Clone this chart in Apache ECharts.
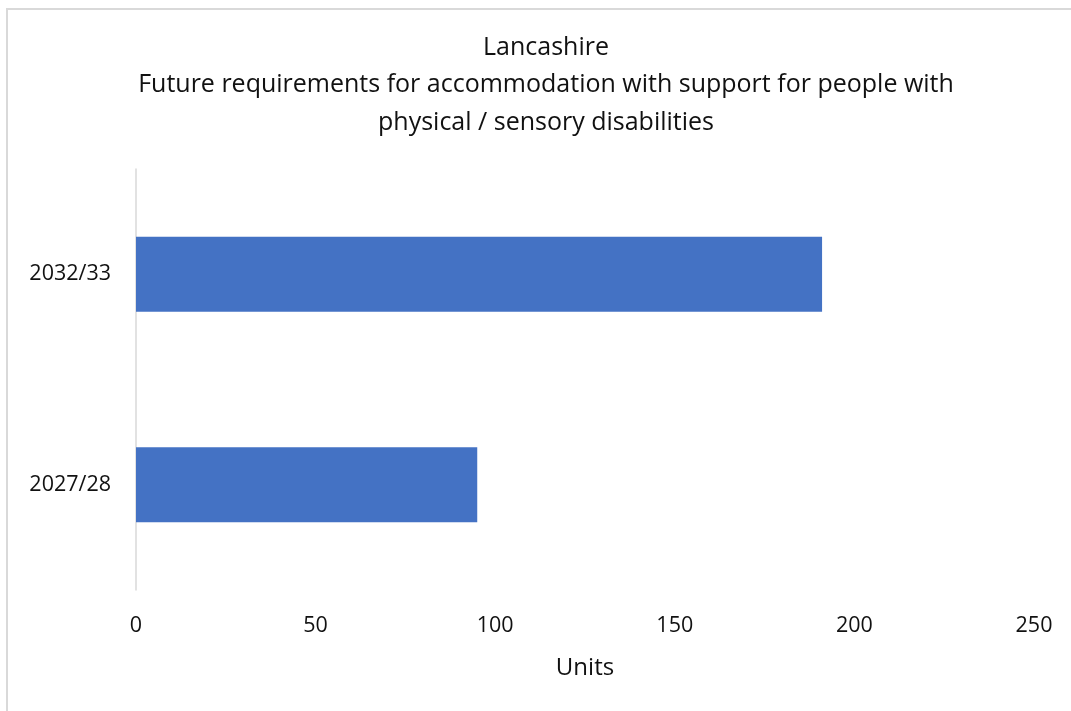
<!DOCTYPE html>
<html>
<head>
<meta charset="utf-8">
<script src="https://cdn.jsdelivr.net/npm/echarts@6/dist/echarts.min.js"></script>
<style>
html,body{margin:0;padding:0;background:#fff;}
#frame{position:absolute;left:6px;top:8px;width:1200px;height:800px;border-left:2px solid #d9d9d9;border-top:2px solid #d9d9d9;}
#chart{position:absolute;left:0;top:0;width:1071px;height:711px;}
</style>
</head>
<body>
<div id="frame"></div>
<div id="chart"></div>
<script>
const categories = ['2027/28', '2032/33'];
const unitValues = [95, 191];
const xTicks = [0, 50, 100, 150, 200, 250];
const titleLines = ['Lancashire', 'Future requirements for accommodation with support for people with', 'physical / sensory disabilities'];

const FONT = '"Open Sans", "Noto Sans", sans-serif';
const chart = echarts.init(document.getElementById('chart'), null, {renderer: 'canvas'});
chart.setOption({
  animation: false,
  backgroundColor: 'transparent',
  graphic: [{
    type: 'text',
    x: 546,
    y: 29,
    style: {
      text: titleLines.join('\n'),
      align: 'center',
      fontFamily: FONT,
      fontSize: 25,
      lineHeight: 37.5,
      fill: '#111'
    }
  }],
  grid: {left: 136, right: 37, top: 169, bottom: 121, containLabel: false},
  xAxis: {
    type: 'value',
    min: xTicks[0],
    max: xTicks[xTicks.length - 1],
    interval: xTicks[1] - xTicks[0],
    axisLine: {show: false},
    axisTick: {show: false},
    splitLine: {show: false},
    axisLabel: {fontFamily: FONT, fontSize: 21.5, color: '#111', margin: 25},
    name: 'Units',
    nameLocation: 'middle',
    nameGap: 66,
    nameTextStyle: {fontFamily: FONT, fontSize: 24, color: '#111'}
  },
  yAxis: {
    type: 'category',
    data: categories,
    axisLine: {show: true, lineStyle: {color: '#d9d9d9', width: 1.5}},
    axisTick: {show: false},
    axisLabel: {fontFamily: FONT, fontSize: 21.5, color: '#111', margin: 25}
  },
  series: [{
    type: 'bar',
    data: unitValues,
    barWidth: 75,
    itemStyle: {color: '#4472C4'}
  }]
});
</script>
</body>
</html>
